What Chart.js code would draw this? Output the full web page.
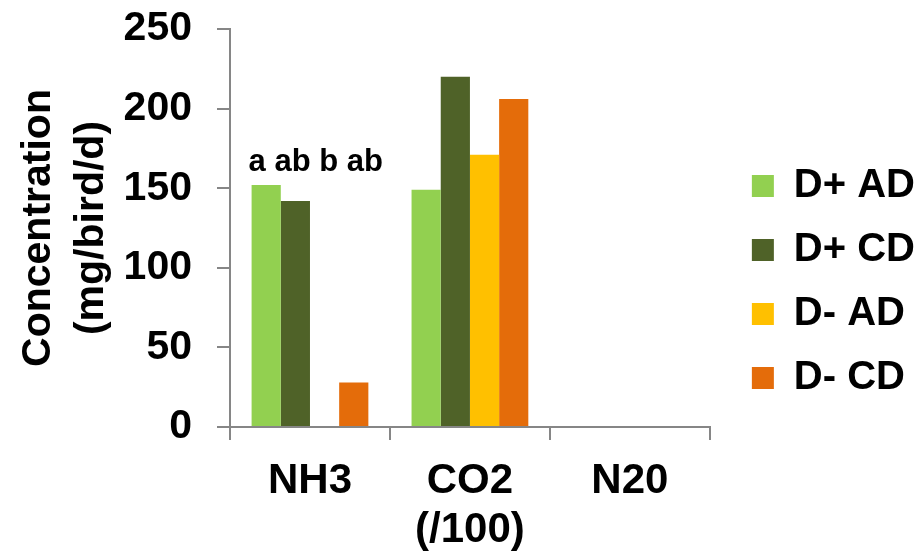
<!DOCTYPE html>
<html>
<head>
<meta charset="utf-8">
<title>Concentration</title>
<script src="https://cdn.jsdelivr.net/npm/chart.js@4/dist/chart.umd.min.js"></script>
<style>
    html, body { margin: 0; padding: 0; background: #fff; }
    #wrap { width: 921px; height: 552px; }
</style>
</head>
<body>
<div id="wrap"><canvas id="gasChart"></canvas></div>
<script>
// values
const categories = ['NH3', ['CO2', '(/100)'], 'N20'];
const seriesNames = ['D+ AD', 'D+ CD', 'D- AD', 'D- CD'];
const dPlusAD = [152, 149, null];
const dPlusCD = [142, 220, null];
const dMinusAD = [null, 171, null];
const dMinusCD = [28, 206, null];
const yTicks = [0, 50, 100, 150, 200, 250];
const annotationLabel = 'a ab b ab';
const annotationValue = 161;

const colors = ['#92D050', '#4F6228', '#FFC000', '#E46C0A'];
const axisGrey = '#868686';
const fontFamily = '"Liberation Sans", Arial, sans-serif';

// pushes the legend away from the plot area
const legendGap = {
    id: 'legendGap',
    afterInit(chart) {
        const legend = chart.legend;
        const fit = legend.fit;
        legend.fit = function () {
            fit.call(this);
            this.width += 14;
        };
    },
    afterLayout(chart) {
        chart.legend.left += 18;
        chart.legend.top += 1;
        chart.legend.bottom += 1;
    }
};

// significance letters above the NH3 group
const letters = {
    id: 'letters',
    afterDatasetsDraw(chart) {
        const ctx = chart.ctx;
        const bar = chart.getDatasetMeta(0).data[0];
        const y = chart.scales.y.getPixelForValue(annotationValue);
        ctx.save();
        ctx.font = 'bold 31px ' + fontFamily;
        ctx.fillStyle = '#000';
        ctx.textAlign = 'left';
        ctx.textBaseline = 'alphabetic';
        ctx.fillText(annotationLabel, bar.x - bar.width / 2 - 3, y);
        ctx.restore();
    }
};

const seriesData = [dPlusAD, dPlusCD, dMinusAD, dMinusCD];

new Chart(document.getElementById('gasChart'), {
    type: 'bar',
    data: {
        labels: categories,
        datasets: seriesNames.map((name, i) => ({
            label: name,
            data: seriesData[i],
            backgroundColor: colors[i],
            borderWidth: 0,
            barPercentage: 1,
            categoryPercentage: 0.73
        }))
    },
    options: {
        responsive: true,
        maintainAspectRatio: false,
        animation: false,
        layout: { padding: { top: 10, right: 0, bottom: 0, left: 0 } },
        plugins: {
            tooltip: { enabled: false },
            legend: {
                position: 'right',
                labels: {
                    boxWidth: 22,
                    boxHeight: 22,
                    padding: 24,
                    color: '#000',
                    font: { family: fontFamily, size: 40, weight: 'bold' }
                }
            }
        },
        scales: {
            x: {
                grid: {
                    offset: true,
                    drawOnChartArea: false,
                    tickLength: 13,
                    color: axisGrey,
                    lineWidth: 2
                },
                border: { color: axisGrey, width: 2 },
                ticks: {
                    color: '#000',
                    padding: 17,
                    font: { family: fontFamily, size: 42, weight: 'bold', lineHeight: 1.17 }
                },
                afterFit(scale) { scale.height = 125; }
            },
            y: {
                min: 0,
                max: 250,
                afterBuildTicks(scale) { scale.ticks = yTicks.map(v => ({ value: v })); },
                grid: {
                    drawOnChartArea: false,
                    tickLength: 13,
                    color: axisGrey,
                    lineWidth: 2
                },
                border: { color: axisGrey, width: 2 },
                ticks: {
                    color: '#000',
                    padding: 25,
                    font: { family: fontFamily, size: 41, weight: 'bold' }
                },
                title: {
                    display: true,
                    text: ['Concentration', '(mg/bird/d)'],
                    color: '#000',
                    padding: { top: 12, bottom: 0 },
                    font: { family: fontFamily, size: 41, weight: 'bold', lineHeight: 1.29 }
                },
                afterFit(scale) {
                    scale.width = 230;
                    scale.paddingTop = 29;
                }
            }
        }
    },
    plugins: [legendGap, letters]
});
</script>
</body>
</html>
